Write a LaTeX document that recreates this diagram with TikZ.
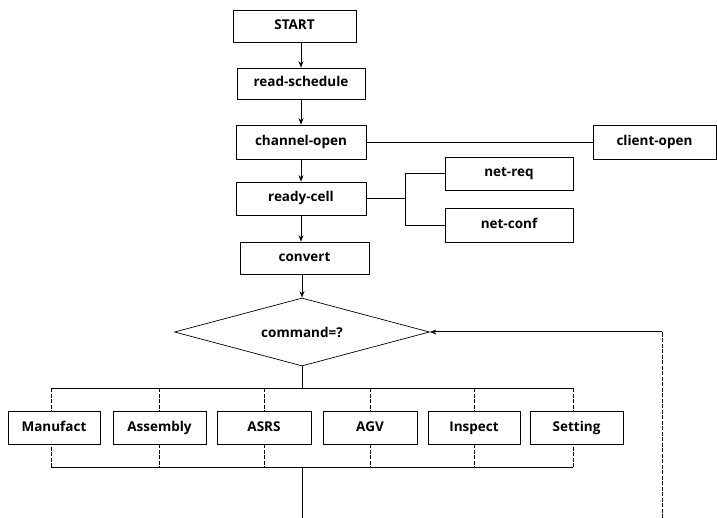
\documentclass[tikz,border=0pt]{standalone}
\usepackage{fontspec}
\setmainfont{Open Sans}
\usetikzlibrary{shapes.geometric,arrows.meta}
\begin{document}
\begin{tikzpicture}[x=1pt,y=-1pt,
  lbl/.style={font=\fontsize{13.5}{15}\selectfont\bfseries},
  box/.style={draw,line width=0.7pt,inner sep=0pt,minimum height=33pt,lbl,text height=10pt,text depth=3pt},
  flow/.style={line width=1pt},
  arr/.style={flow,-{Stealth[length=6.5pt,width=5pt]}},
  tick/.style={line width=0.7pt,dash pattern=on 4pt off 1.5pt},
]
\useasboundingbox (0,0) rectangle (717,518);
\node[box,minimum width=123pt,minimum height=32pt] (start) at (294.5,26) {START};
\node[box,minimum width=128pt,minimum height=31pt] (read) at (301,83.5) {read-schedule};
\node[box,minimum width=130pt,minimum height=34pt] (chan) at (301,142) {channel-open};
\node[box,minimum width=123pt,minimum height=34pt] (client) at (654.5,142) {client-open};
\node[box,minimum width=130pt] (ready) at (301,198.5) {ready-cell};
\node[box,minimum width=128pt] (netreq) at (509,173.5) {net-req};
\node[box,minimum width=128pt,minimum height=34pt] (netconf) at (509,225) {net-conf};
\node[box,minimum width=129pt,minimum height=32pt] (convert) at (304.5,258) {convert};
\node[draw,diamond,shape aspect=3.75,line width=0.7pt,minimum width=255pt,minimum height=68pt,inner sep=0pt,lbl] (cmd) at (302,332) {command=?};
\node[box,minimum width=92pt] (manufact) at (54,427.5) {Manufact};
\node[box,minimum width=93pt] (assembly) at (159.5,427.5) {Assembly};
\node[box,minimum width=94pt] (asrs) at (264,427.5) {ASRS};
\node[box,minimum width=94pt] (agv) at (370,427.5) {AGV};
\node[box,minimum width=92pt] (inspect) at (474,427.5) {Inspect};
\node[box,minimum width=93pt] (setting) at (576.5,427.5) {Setting};
\coordinate (busTL) at (51,388);
\coordinate (busTR) at (573,388);
\coordinate (busBL) at (51,467);
\coordinate (busBR) at (573,467);
\coordinate (brk) at (405,198.5);
\coordinate (bottom) at (302,518);
\coordinate (loopB) at (662,518);
\coordinate (loopT) at (662,332);
% main flow
\draw[arr] (start.south -| read.north) -- (read.north);
\draw[arr] (read.south) -- (chan.north);
\draw[arr] (chan.south) -- (ready.north);
\draw[arr] (ready.south) -- (ready.south |- convert.north);
\draw[arr] (convert.south -| cmd.north) -- (cmd.north);
% side branches
\draw[line width=0.7pt] (chan.east) -- (client.west);
\draw[line width=0.7pt] (ready.east) -- (brk);
\draw[line width=0.7pt] (brk |- netreq.west) -- (brk |- netconf.west);
\draw[line width=0.7pt] (brk |- netreq.west) -- (netreq.west);
\draw[line width=0.7pt] (brk |- netconf.west) -- (netconf.west);
% buses
\draw[flow] (cmd.south) -- (cmd.south |- busTL);
\draw[flow] (busTL) -- (busTR);
\draw[flow] (busBL) -- (busBR);
\draw[flow] (cmd.south |- busBL) -- (bottom);
\draw[tick] (busTL) -- (busTL |- manufact.north);
\draw[tick] (busBL) -- (busBL |- manufact.south);
\draw[tick] (busTR) -- (busTR |- setting.north);
\draw[tick] (busBR) -- (busBR |- setting.south);
\foreach \b in {assembly,asrs,agv,inspect}{
  \draw[tick] (\b.north |- busTL) -- (\b.north);
  \draw[tick] (\b.south) -- (\b.south |- busBL);
}
% loop back
\draw[tick] (loopB) -- (loopT);
\draw[arr] (loopT) -- (cmd.east);
\end{tikzpicture}
\end{document}
